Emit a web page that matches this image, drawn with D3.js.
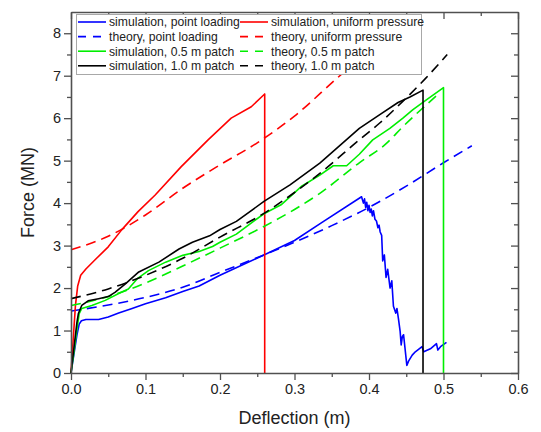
<!DOCTYPE html>
<html>
<head>
<meta charset="utf-8">
<script src="https://cdn.jsdelivr.net/npm/d3@7"></script>
<style>
  body { margin: 0; background: #fff; }
  svg { font-family: "Liberation Sans", Arial, sans-serif; }
</style>
</head>
<body>
<div id="chart"></div>
<script>
// Force vs deflection: simulation and theory curves

// series data, [deflection (m), force (MN)]
let simPoint = [[0,0],[0.004,0.45],[0.008,0.9],[0.011,1.15],[0.014,1.23],[0.02,1.26],[0.037,1.26],[0.05,1.32],
  [0.064,1.41],[0.082,1.52],[0.1,1.63],[0.127,1.77],[0.15,1.92],[0.172,2.05],[0.2,2.3],[0.259,2.78],[0.3,3.12],
  [0.338,3.56],[0.39,4.15],[0.3925,4.0],[0.394,4.1],[0.3955,3.9],[0.397,4.02],[0.3985,3.82],[0.4,3.95],
  [0.4015,3.78],[0.403,3.86],[0.4045,3.7],[0.406,3.82],[0.408,3.62],[0.41,3.58],[0.412,3.42],[0.4135,3.48],
  [0.415,3.32],[0.417,3.24],[0.4184,2.64],[0.4206,2.78],[0.4229,2.25],[0.4251,2.44],[0.4283,2.0],[0.4306,2.17],
  [0.4328,1.57],[0.436,1.41],[0.4375,1.52],[0.4395,1.28],[0.4418,0.98],[0.4432,0.66],[0.4448,0.86],[0.4464,0.9],
  [0.4508,0.18],[0.4531,0.28],[0.458,0.42],[0.4622,0.5],[0.4712,0.62],[0.4735,0.5],[0.4824,0.57],[0.4906,0.69],
  [0.4924,0.54],[0.496,0.62],[0.504,0.72]];
let theoryPoint = [[0,1.46],[0.05,1.6],[0.1,1.78],[0.15,2.02],[0.2,2.37],[0.259,2.78],[0.3,3.08],[0.35,3.47],
  [0.4,3.9],[0.45,4.4],[0.5,4.95],[0.538,5.35]];
let simUniform = [[0,0],[0.003,0.8],[0.006,1.6],[0.009,2.05],[0.013,2.3],[0.02,2.45],[0.032,2.66],[0.05,2.97],
  [0.068,3.37],[0.09,3.8],[0.113,4.19],[0.148,4.86],[0.184,5.49],[0.215,6.0],[0.242,6.27],[0.26,6.57],[0.26,0]];
let theoryUniform = [[0,2.9],[0.05,3.22],[0.1,3.72],[0.15,4.35],[0.2,4.9],[0.25,5.42],[0.3,6.05],[0.357,6.94],[0.4,7.6]];
let simPatch05 = [[0,0],[0.004,0.5],[0.0077,1.0],[0.011,1.4],[0.0144,1.52],[0.028,1.59],[0.046,1.71],[0.064,1.87],
  [0.077,1.98],[0.089,2.22],[0.104,2.41],[0.127,2.61],[0.15,2.77],[0.172,2.86],[0.19,2.98],[0.2,3.08],[0.222,3.27],
  [0.259,3.75],[0.282,3.96],[0.309,4.39],[0.334,4.66],[0.352,4.88],[0.37,4.88],[0.387,5.15],[0.405,5.49],
  [0.428,5.76],[0.4455,6.0],[0.459,6.2],[0.477,6.43],[0.5,6.72],[0.5,0]];
let theoryPatch05 = [[0,1.59],[0.05,1.8],[0.1,2.12],[0.15,2.52],[0.2,2.94],[0.259,3.45],[0.3,3.85],[0.334,4.23],
  [0.387,4.95],[0.423,5.4],[0.4455,5.8],[0.49,6.52]];
let simPatch10 = [[0,0],[0.004,0.6],[0.0077,1.16],[0.0099,1.4],[0.0144,1.59],[0.023,1.7],[0.037,1.75],[0.05,1.8],
  [0.059,1.9],[0.073,2.1],[0.091,2.38],[0.118,2.61],[0.145,2.92],[0.163,3.08],[0.186,3.23],[0.2,3.38],[0.222,3.57],
  [0.259,4.04],[0.294,4.43],[0.334,4.94],[0.387,5.76],[0.416,6.1],[0.439,6.37],[0.455,6.5],[0.4725,6.66],[0.4725,0]];
let theoryPatch10 = [[0,1.75],[0.05,1.98],[0.1,2.3],[0.15,2.7],[0.2,3.2],[0.259,3.76],[0.3,4.25],[0.334,4.7],
  [0.387,5.49],[0.414,5.88],[0.445,6.39],[0.475,6.92],[0.505,7.5]];

// legend labels, column by column
let legendLabels = [
  "simulation, point loading", "theory, point loading", "simulation, 0.5 m patch", "simulation, 1.0 m patch",
  "simulation, uniform pressure", "theory, uniform pressure", "theory, 0.5 m patch", "theory, 1.0 m patch"
];

// axis ticks
let xTicks = [0, 0.1, 0.2, 0.3, 0.4, 0.5, 0.6];
let xMinor = [0.05, 0.15, 0.25, 0.35, 0.45, 0.55];
let yTicks = [0, 1, 2, 3, 4, 5, 6, 7, 8];
let yMinor = [0.5, 1.5, 2.5, 3.5, 4.5, 5.5, 6.5, 7.5];

let series = [
  { data: simPoint, color: "#0000ff", dash: null, key: 0 },
  { data: theoryPoint, color: "#0000ff", dash: "10,6", key: 1 },
  { data: simUniform, color: "#ff0000", dash: null, key: 4 },
  { data: theoryUniform, color: "#ff0000", dash: "10,6", key: 5 },
  { data: simPatch05, color: "#00ee00", dash: null, key: 2 },
  { data: theoryPatch05, color: "#00ee00", dash: "10,6", key: 6 },
  { data: simPatch10, color: "#000000", dash: null, key: 3 },
  { data: theoryPatch10, color: "#000000", dash: "10,6", key: 7 }
];

let svgWidth = 541;
let svgHeight = 432;
let margin = { top: 12, right: 23, bottom: 59, left: 71 };
let width = svgWidth - margin.left - margin.right;
let height = svgHeight - margin.top - margin.bottom;

let svg = d3.select("#chart").append("svg")
  .attr("width", svgWidth)
  .attr("height", svgHeight);

let chartGroup = svg.append("g")
  .attr("transform", `translate(${margin.left}, ${margin.top})`);

let x = d3.scaleLinear().domain([0, 0.6]).range([0, width]);
let y = d3.scaleLinear().domain([0, 8.5]).range([height, 0]);

let axisColor = "#505050";

function styleAxis(g) {
  g.select(".domain").attr("stroke", axisColor).attr("stroke-width", 1.6);
  g.selectAll(".tick line").attr("stroke", axisColor).attr("stroke-width", 1.3);
}

// minor ticks first (no labels)
chartGroup.append("g").attr("transform", `translate(0, ${height})`)
  .call(d3.axisBottom(x).tickValues(xMinor).tickSize(4).tickFormat(""))
  .call(g => { styleAxis(g); g.select(".domain").remove(); });
chartGroup.append("g")
  .call(d3.axisLeft(y).tickValues(yMinor).tickSize(4).tickFormat(""))
  .call(g => { styleAxis(g); g.select(".domain").remove(); });
chartGroup.append("g")
  .call(d3.axisTop(x).tickValues(xMinor).tickSize(-4).tickFormat(""))
  .call(g => { styleAxis(g); g.select(".domain").remove(); });
chartGroup.append("g").attr("transform", `translate(${width}, 0)`)
  .call(d3.axisRight(y).tickValues(yMinor).tickSize(-4).tickFormat(""))
  .call(g => { styleAxis(g); g.select(".domain").remove(); });

// top and right frame with inward ticks
chartGroup.append("g")
  .call(d3.axisTop(x).tickValues(xTicks).tickSize(-7).tickSizeOuter(0).tickFormat(""))
  .call(styleAxis);
chartGroup.append("g").attr("transform", `translate(${width}, 0)`)
  .call(d3.axisRight(y).tickValues(yTicks).tickSize(-7).tickSizeOuter(0).tickFormat(""))
  .call(styleAxis);

// data lines: theory curves smoothed, simulation curves straight segments
let simLine = d3.line().x(d => x(d[0])).y(d => y(d[1]));
let theoryLine = d3.line().x(d => x(d[0])).y(d => y(d[1])).curve(d3.curveMonotoneX);

chartGroup.selectAll(".series")
  .data(series)
  .enter()
  .append("path")
  .attr("class", "series")
  .attr("d", d => d.dash ? theoryLine(d.data) : simLine(d.data))
  .attr("fill", "none")
  .attr("stroke", d => d.color)
  .attr("stroke-width", 1.6)
  .attr("stroke-dasharray", d => d.dash)
  .attr("stroke-linejoin", "round");

// bottom and left axes with labels
chartGroup.append("g").attr("transform", `translate(0, ${height})`)
  .call(d3.axisBottom(x).tickValues(xTicks).tickSize(7).tickSizeOuter(0).tickPadding(4).tickFormat(d3.format(".1f")))
  .call(styleAxis)
  .call(g => g.selectAll("text").attr("font-size", 14.5).attr("fill", "#222").attr("font-family", "Liberation Sans, Arial"));

chartGroup.append("g")
  .call(d3.axisLeft(y).tickValues(yTicks).tickSize(7).tickSizeOuter(0).tickPadding(3).tickFormat(d3.format("d")))
  .call(styleAxis)
  .call(g => g.selectAll("text").attr("font-size", 14.5).attr("fill", "#222").attr("font-family", "Liberation Sans, Arial"));

// axis titles
svg.append("text")
  .attr("x", margin.left + width / 2)
  .attr("y", 424)
  .attr("text-anchor", "middle")
  .attr("font-size", 18)
  .attr("fill", "#222")
  .text("Deflection (m)");

svg.append("text")
  .attr("transform", `translate(34, ${margin.top + height / 2}) rotate(-90)`)
  .attr("text-anchor", "middle")
  .attr("font-size", 18)
  .attr("fill", "#222")
  .text("Force (MN)");

// legend
let legend = svg.append("g");
legend.append("rect")
  .attr("x", 76.5).attr("y", 14.5)
  .attr("width", 345).attr("height", 60)
  .attr("fill", "#fff")
  .attr("stroke", "#a8a8a8")
  .attr("stroke-width", 1);

let legendItems = legend.selectAll(".item")
  .data(series)
  .enter()
  .append("g")
  .attr("class", "item")
  .attr("transform", d => {
    let col = Math.floor(d.key / 4);
    let row = d.key % 4;
    return `translate(${col === 0 ? 78 : 240}, ${22 + row * 14.6})`;
  });

legendItems.append("line")
  .attr("x1", 0).attr("x2", 28)
  .attr("stroke", d => d.color)
  .attr("stroke-width", 1.6)
  .attr("stroke-dasharray", d => d.dash ? "8,7" : null);

legendItems.append("text")
  .attr("x", 31)
  .attr("y", 4.3)
  .attr("font-size", 12.2)
  .attr("fill", "#222")
  .text(d => legendLabels[d.key]);
</script>
</body>
</html>
